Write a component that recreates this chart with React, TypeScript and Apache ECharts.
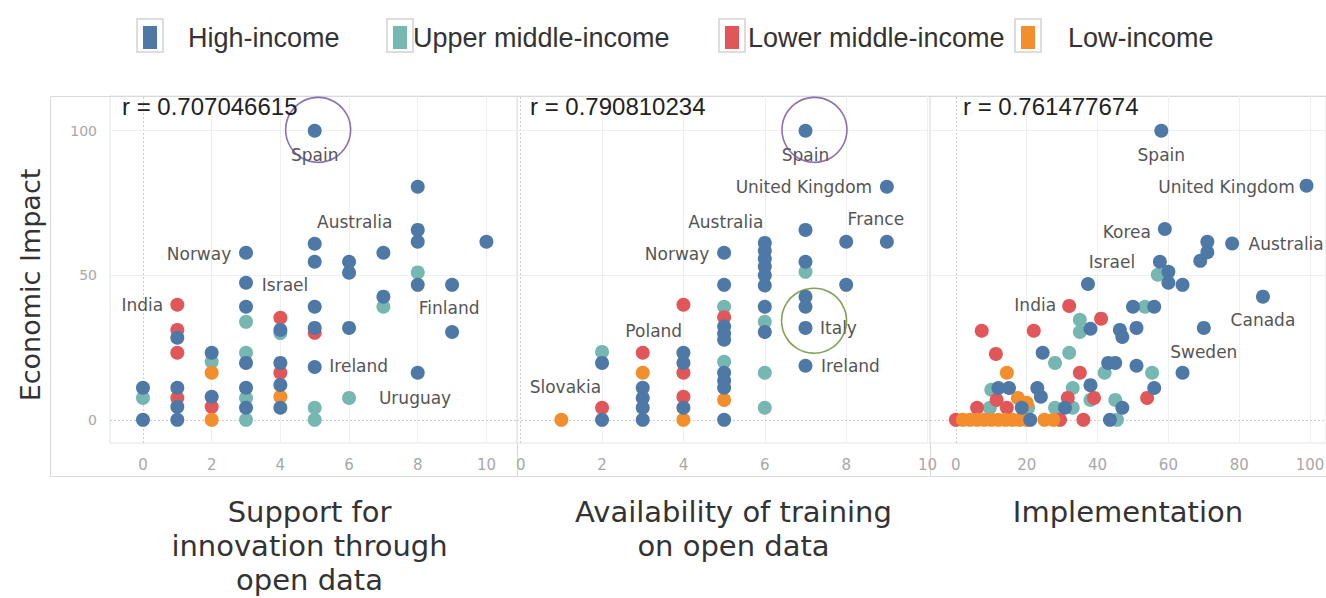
import React, { useEffect, useRef } from 'react';
import * as echarts from 'echarts';

type Pt = [number, number, string?];

const groupNames = ['High-income', 'Upper middle-income', 'Lower middle-income', 'Low-income'];
const groupColors = ['#4e79a7', '#76b7b2', '#e15759', '#f28e2b'];

const panelTitles = ['Support for\ninnovation through\nopen data', 'Availability of training\non open data', 'Implementation'];
const correlations = ['r = 0.707046615', 'r = 0.790810234', 'r = 0.761477674'];
const yAxisTitle = 'Economic Impact';
const yTicks = [0, 50, 100];
const xTicksSmall = [0, 2, 4, 6, 8, 10];
const xTicksLarge = [0, 20, 40, 60, 80, 100];

// Panel 1: Support for innovation through open data
const supportHigh: Pt[] = [
  [5, 100, 'Spain'], [8, 80.6], [8, 65.7], [8, 61.6], [10, 61.6], [3, 57.8, 'Norway'], [5, 60.9, 'Australia'],
  [5, 54.7], [6, 54.7], [6, 50.9], [7, 57.8], [8, 46.7], [9, 46.7], [9, 30.4, 'Finland'], [7, 42.6],
  [3, 47.4, 'Israel'], [3, 39.1], [3, 19.7], [3, 11.1], [3, 4.2], [1, 28.4], [1, 11.1], [1, 4.5], [1, 0],
  [0, 11.1], [0, 0], [2, 23.2], [2, 8], [4, 31.1], [4, 19.7], [4, 12.1], [4, 4.2], [5, 39.1], [5, 31.8],
  [5, 18.3, 'Ireland'], [6, 31.8], [8, 16.3],
];
const supportUpper: Pt[] = [
  [8, 51], [7, 39.1], [3, 33.9], [3, 23.2], [3, 7.6], [3, 0], [0, 7.6], [2, 20.1], [4, 30], [5, 4.2], [5, 0],
  [6, 7.6, 'Uruguay'],
];
const supportLower: Pt[] = [
  [1, 39.8, 'India'], [1, 31.1], [1, 23.2], [1, 7.6], [2, 4.5], [4, 35.3], [4, 16.3], [5, 30.1],
];
const supportLow: Pt[] = [[2, 16.3], [2, 0], [4, 8]];

// Panel 2: Availability of training on open data
const trainingHigh: Pt[] = [
  [7, 100, 'Spain'], [9, 80.6, 'United Kingdom'], [8, 61.6], [9, 61.6, 'France'], [7, 65.7], [5, 57.8, 'Norway'],
  [6, 61.2, 'Australia'], [6, 58.5], [6, 55.7], [6, 53], [6, 50], [6, 46.5], [7, 54.7], [7, 42.6], [7, 39.1],
  [7, 31.8, 'Italy'], [7, 18.7, 'Ireland'], [8, 46.7], [6, 39.1], [6, 30.4], [5, 46.7], [5, 32.3], [5, 29.9],
  [5, 27.7], [5, 16.3], [5, 13.5], [5, 11.1], [5, 0], [4, 23.2], [4, 19.7], [4, 4.2], [3, 11.1], [3, 7.6],
  [3, 4.2], [3, 0], [2, 19.7], [2, 0],
];
const trainingUpper: Pt[] = [[7, 51.2], [6, 33.9], [6, 16.3], [6, 4.2], [5, 39.1], [5, 20.1], [2, 23.5]];
const trainingLower: Pt[] = [[4, 39.8], [4, 16.3], [4, 8], [3, 23.2, 'Poland'], [2, 4.2], [5, 35.5]];
const trainingLow: Pt[] = [[1, 0, 'Slovakia'], [3, 16.3], [4, 0], [5, 6.9]];

// Panel 3: Implementation
const implHigh: Pt[] = [
  [58, 100, 'Spain'], [99, 81, 'United Kingdom'], [59, 66, 'Korea'], [78, 61, 'Australia'], [71, 61.6], [71, 58],
  [69, 55], [57.6, 54.7, 'Israel'], [60, 51.2], [60, 47.4], [64, 46.7], [86.7, 42.6, 'Canada'], [70, 31.8, 'Sweden'],
  [64, 16.3], [50, 39.1], [56, 39.1], [46.3, 31.1], [47, 28.7], [51, 31.8], [43, 19.7], [45, 19.7], [51, 18.7],
  [56, 11], [37.3, 47], [38, 31.5], [24.5, 23.2], [38, 12], [23, 11], [24, 8], [47, 4.2], [43.5, 0], [30.8, 4.2],
  [21, 0], [18.6, 4.2], [12, 11], [15, 11],
];
const implUpper: Pt[] = [
  [57, 50.2], [53.4, 39.1], [55.4, 16.3], [42, 16.3], [35, 34.6], [35, 30.4], [28, 19.7], [32, 23.2], [33, 11],
  [45, 6.9], [45.5, 0], [28, 4.2], [33, 4.2], [20.4, 4.2], [10, 10.4], [9.6, 4.2], [38, 6.9],
];
const implLower: Pt[] = [
  [32, 39.4, 'India'], [41, 35], [7.3, 30.8], [22, 30.8], [11.3, 22.8], [35, 16.3], [31.6, 7.6], [39, 7.6],
  [54, 7.6], [36, 0], [11.5, 6.9], [14.4, 4.2], [6, 4.2], [0, 0], [29.4, 0],
];
const implLow: Pt[] = [
  [14.4, 16.3], [17.5, 7.6], [20, 5.9], [2, 0], [4, 0], [6, 0], [8, 0], [10, 0], [12, 0], [14, 0], [16, 0],
  [18, 0], [20, 0], [25, 0], [27.5, 0],
];

// Annotation rings (data coordinates)
const spainRingSupport: number[][] = [[5.1, 100.3]];
const spainRingTraining: number[][] = [[7.22, 100.3]];
const italyRingTraining: number[][] = [[7.21, 34.3]];

// ---- layout / style (not data) ----
const panelGroups = [
  [supportHigh, supportUpper, supportLower, supportLow],
  [trainingHigh, trainingUpper, trainingLower, trainingLow],
  [implHigh, implUpper, implLower, implLow],
];
const panelTicks = [xTicksSmall, xTicksSmall, xTicksLarge];
const panelXRange = [[-0.96, 10.89], [-0.09, 10.06], [-7.3, 104.5]];
const gridBoxes = [
  { left: 110, width: 407 },
  { left: 517, width: 413 },
  { left: 930, width: 396 },
];
const rLeft = [122, 530, 963];
const titlePad = [[0, 8, 0, 0], [0, 0, 0, 20], [0, 0, 0, 0]];
const labelOffsets: Record<string, number[]>[] = [
  { Spain: [0, 24], Australia: [40, -22], Norway: [-47, 1], Israel: [39, 2], India: [-35, 0], Finland: [-3, -24], Ireland: [44, -1], Uruguay: [66, 0] },
  { Spain: [0, 24], 'United Kingdom': [-83, 0], France: [-11, -23], Australia: [-39, -21], Norway: [-47, 1], Poland: [11, -22], Slovakia: [4, -33], Italy: [33, 0], Ireland: [45, 0] },
  { Spain: [0, 24], 'United Kingdom': [-80, 1], Korea: [-38, 3], Australia: [54, 1], Israel: [-48, 0], India: [-34, -1], Canada: [0, 23], Sweden: [0, 24] },
];
const drawOrder = [1, 2, 3, 0];
const legendIconX = [143, 393, 725, 1021];
const legendTextPad = [26, 1, 4, 28];

export default function App() {
  const ref = useRef<HTMLDivElement>(null);
  useEffect(() => {
    if (!ref.current) return;
    const chart = echarts.init(ref.current, null, { renderer: 'svg' });

    const gridStyle = { color: '#efefef', width: 1, type: 'solid' };
    const zeroStyle = { color: '#cdcdcd', width: 1, type: [2, 2] };

    const series: any[] = [];
    panelGroups.forEach((groups, p) => {
      drawOrder.forEach((gi) => {
        const pts = groups[gi];
        series.push({
          type: 'scatter',
          name: groupNames[gi],
          xAxisIndex: p,
          yAxisIndex: p,
          symbolSize: 14,
          z: 2,
          itemStyle: { color: groupColors[gi], opacity: 1 },
          emphasis: { disabled: true },
          label: {
            show: false,
            position: 'inside',
            formatter: '{b}',
            color: '#555555',
            fontSize: 17,
            fontFamily: 'DejaVu Sans',
            textBorderWidth: 0,
          },
          data: pts.map((d) =>
            d[2]
              ? { value: [d[0], d[1]], name: d[2], label: { show: true, offset: labelOffsets[p][d[2] as string] || [0, 0] } }
              : { value: [d[0], d[1]] }
          ),
          markLine:
            gi === 1
              ? {
                  silent: true,
                  symbol: ['none', 'none'],
                  z: 1,
                  label: { show: false },
                  emphasis: { disabled: true },
                  data: [
                    ...panelTicks[p].map((v) => ({ xAxis: v, lineStyle: v === 0 ? zeroStyle : gridStyle })),
                    ...yTicks.map((v) => ({ yAxis: v, lineStyle: v === 0 ? zeroStyle : gridStyle })),
                  ],
                }
              : undefined,
        });
      });
    });

    const rings: [number, number[][], string][] = [
      [0, spainRingSupport, '#6e4fa0'],
      [1, spainRingTraining, '#6e4fa0'],
      [1, italyRingTraining, '#5f8c2c'],
    ];
    rings.forEach(([p, data, color]) => {
      series.push({
        type: 'scatter',
        name: 'annotation',
        xAxisIndex: p,
        yAxisIndex: p,
        symbol: 'circle',
        symbolSize: 65,
        silent: true,
        z: 3,
        itemStyle: { color: 'rgba(0,0,0,0)', borderColor: color, borderWidth: 1.6 },
        data,
      });
    });

    const option: any = {
      animation: false,
      backgroundColor: '#ffffff',
      title: correlations.map((t, i) => ({
        text: t,
        left: rLeft[i],
        top: 94,
        padding: 0,
        textStyle: { fontSize: 24, fontWeight: 'normal', fontFamily: 'Liberation Sans', color: '#222' },
      })),
      legend: groupNames.map((n, i) => ({
        data: [n],
        left: legendIconX[i],
        top: 24,
        padding: 0,
        itemWidth: 14,
        itemHeight: 23,
        icon: 'rect',
        selectedMode: false,
        textStyle: { fontSize: 27, fontFamily: 'Liberation Sans', color: '#333', padding: [0, 0, 0, legendTextPad[i]] },
      })),
      grid: gridBoxes.map((g) => ({
        left: g.left,
        width: g.width,
        top: 96,
        height: 347,
        show: true,
        borderColor: '#e3e3e3',
        borderWidth: 1,
        containLabel: false,
        outerBoundsMode: 'none',
      })),
      xAxis: panelTicks.map((ticks, p) => ({
        type: 'value',
        gridIndex: p,
        min: panelXRange[p][0],
        max: panelXRange[p][1],
        axisLine: { show: false },
        axisTick: { show: false },
        splitLine: { show: false },
        axisLabel: { customValues: ticks, color: '#a8a8a8', fontSize: 15, fontFamily: 'DejaVu Sans', margin: 14 },
        name: panelTitles[p],
        nameLocation: 'middle',
        nameGap: 52,
        nameMoveOverlap: false,
        nameTextStyle: {
          fontSize: 29,
          lineHeight: 34,
          fontFamily: 'DejaVu Sans',
          color: '#333',
          padding: titlePad[p],
        },
      })),
      yAxis: panelTicks.map((_, p) => ({
        type: 'value',
        gridIndex: p,
        min: -8,
        max: 112,
        axisLine: { show: false },
        axisTick: { show: false },
        splitLine: { show: false },
        axisLabel: {
          show: p === 0,
          customValues: yTicks,
          color: '#a8a8a8',
          fontSize: 14,
          fontFamily: 'DejaVu Sans',
          margin: 13,
        },
      })),
      graphic: [
        { type: 'rect', silent: true, shape: { x: 50.5, y: 96.5, width: 1300, height: 380 }, style: { fill: 'none', stroke: '#d9d9d9', lineWidth: 1 } },
        { type: 'line', silent: true, shape: { x1: 517.5, y1: 443, x2: 517.5, y2: 476 }, style: { stroke: '#d9d9d9', lineWidth: 1 } },
        { type: 'line', silent: true, shape: { x1: 930.5, y1: 443, x2: 930.5, y2: 476 }, style: { stroke: '#d9d9d9', lineWidth: 1 } },
        ...legendIconX.map((x) => ({
          type: 'rect',
          silent: true,
          shape: { x: x - 6, y: 19, width: 26, height: 33 },
          style: { fill: 'none', stroke: '#d2d2d2', lineWidth: 1.5 },
        })),
        {
          type: 'text',
          silent: true,
          x: 30,
          y: 285,
          rotation: Math.PI / 2,
          style: { text: yAxisTitle, fontSize: 27, fontFamily: 'DejaVu Sans', fill: '#333', align: 'center', verticalAlign: 'middle' },
        },
      ],
      series,
    };
    chart.setOption(option);
    return () => chart.dispose();
  }, []);

  return <div ref={ref} style={{ position: 'fixed', left: 0, top: 0, width: 1326, height: 598 }} />;
}
